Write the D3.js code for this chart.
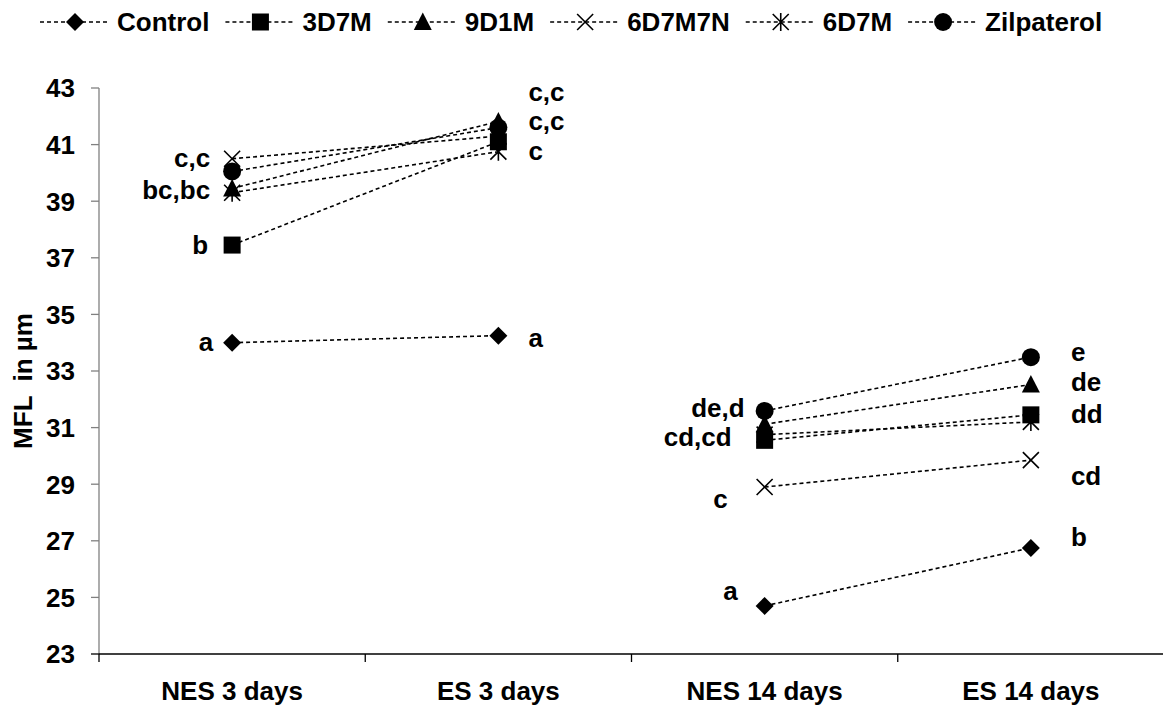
<!DOCTYPE html>
<html><head><meta charset="utf-8">
<script src="https://cdn.jsdelivr.net/npm/d3@7"></script>
<style>body{margin:0;background:#fff}svg{display:block}text{font-family:"Liberation Sans",Arial,sans-serif;font-weight:bold;fill:#000;white-space:pre}</style>
</head><body><svg id="c" width="1163" height="709"></svg>
<script>
const categories = ["NES 3 days", "ES 3 days", "NES 14 days", "ES 14 days"];
const seriesNames = ["Control", "3D7M", "9D1M", "6D7M7N", "6D7M", "Zilpaterol"];
const seriesMarkers = ["diamond", "square", "triangle", "x", "asterisk", "circle"];
const control    = [34.0, 34.25, 24.7, 26.75];
const s3D7M      = [37.45, 41.1, 30.55, 31.45];
const s9D1M      = [39.45, 41.82, 31.12, 32.52];
const s6D7M7N    = [40.5, 41.3, 28.9, 29.85];
const s6D7M      = [39.3, 40.75, 30.75, 31.2];
const zilpaterol = [40.05, 41.6, 31.59, 33.49];
const seriesValues = [control, s3D7M, s9D1M, s6D7M7N, s6D7M, zilpaterol];
const yTicks = [23, 25, 27, 29, 31, 33, 35, 37, 39, 41, 43];
const labelCats = [0,0,0,0, 1,1,1,1, 2,2,2,2, 3,3,3,3,3];
const labelVals = [40.55,39.42,37.45,34.03, 42.86,41.83,40.8,34.17, 31.72,30.67,28.5,25.23, 33.7,32.62,31.5,29.3,27.13];
const labelTexts = ["c,c","bc,bc","b","a", "c,c","c,c","c","a", "de,d","cd,cd","c","a", "e","de","dd","cd","b"];
const yTitle = "MFL  in µm";

(function () {
const svg = d3.select("#c");
const FS = 26;
const pLeft = 99, pRight = 1164, pTop = 88, pBottom = 654;
const x = d3.scalePoint().domain(categories).range([pLeft, pRight]).padding(0.5);
const xb = d3.scaleBand().domain(categories).range([pLeft, pRight]);
const y = d3.scaleLinear().domain([23, 43]).range([pBottom, pTop]);

const axisColor = "#808080";
svg.append("line").attr("x1", pLeft).attr("x2", pLeft).attr("y1", pTop).attr("y2", pBottom).attr("stroke", axisColor).attr("stroke-width", 1.3);
svg.append("line").attr("x1", pLeft).attr("x2", pRight).attr("y1", pBottom).attr("y2", pBottom).attr("stroke", "#000").attr("stroke-width", 1.3);
yTicks.forEach(t => {
  svg.append("line").attr("x1", pLeft - 8).attr("x2", pLeft).attr("y1", y(t)).attr("y2", y(t)).attr("stroke", t === 23 ? "#000" : axisColor).attr("stroke-width", 1.3);
  svg.append("text").attr("x", 75).attr("y", y(t)).attr("dy", "0.36em").attr("text-anchor", "end").attr("font-size", FS).text(t);
});
categories.forEach((c, i) => {
  if (i > 0) svg.append("line").attr("x1", xb(c)).attr("x2", xb(c)).attr("y1", pBottom).attr("y2", pBottom + 8).attr("stroke", "#000").attr("stroke-width", 1.3);
  svg.append("text").attr("x", x(c)).attr("y", 700).attr("text-anchor", "middle").attr("font-size", FS).text(c);
});
svg.append("line").attr("x1", pLeft).attr("x2", pLeft).attr("y1", pBottom).attr("y2", pBottom + 8).attr("stroke", "#000").attr("stroke-width", 1.3);
svg.append("text").attr("transform", `translate(23,381) rotate(-90)`).attr("dy", "0.36em").attr("text-anchor", "middle").attr("font-size", FS).text(yTitle);

function marker(g, type, cx, cy) {
  const s = 9;
  if (type === "diamond") g.append("path").attr("d", `M${cx},${cy-s}L${cx+s},${cy}L${cx},${cy+s}L${cx-s},${cy}Z`).attr("fill", "#000");
  else if (type === "square") g.append("rect").attr("x", cx-8.5).attr("y", cy-8.5).attr("width", 17).attr("height", 17).attr("fill", "#000");
  else if (type === "triangle") g.append("path").attr("d", `M${cx},${cy-9.5}L${cx+9},${cy+8}L${cx-9},${cy+8}Z`).attr("fill", "#000");
  else if (type === "circle") g.append("circle").attr("cx", cx).attr("cy", cy).attr("r", 9).attr("fill", "#000");
  else if (type === "x") g.append("path").attr("d", `M${cx-8},${cy-8}L${cx+8},${cy+8}M${cx-8},${cy+8}L${cx+8},${cy-8}`).attr("stroke", "#000").attr("stroke-width", 1.6).attr("fill", "none");
  else if (type === "asterisk") g.append("path").attr("d", `M${cx-8},${cy-8}L${cx+8},${cy+8}M${cx-8},${cy+8}L${cx+8},${cy-8}M${cx},${cy-9}L${cx},${cy+9}`).attr("stroke", "#000").attr("stroke-width", 1.6).attr("fill", "none");
}

const pairs = [[0, 1], [2, 3]];
const lineGen = d3.line().x(d => x(d[0])).y(d => y(d[1]));
seriesValues.forEach((vals) => {
  pairs.forEach(([a, b]) => {
    svg.append("path").attr("d", lineGen([[categories[a], vals[a]], [categories[b], vals[b]]]))
      .attr("stroke", "#000").attr("stroke-width", 1.6).attr("stroke-dasharray", "4,3").attr("fill", "none");
  });
});
seriesValues.forEach((vals, si) => {
  vals.forEach((v, ci) => marker(svg, seriesMarkers[si], x(categories[ci]), y(v)));
});

// per-label horizontal offsets from the category centre (layout only)
const labelDx = [-22,-22,-24,-19, 30,30,30,30, -20,-33,-37,-27, 40,40,40,40,40];
const labelAnchor = ["end", "start", "end", "start"];
labelTexts.forEach((t, i) => {
  const ci = labelCats[i];
  svg.append("text").attr("x", x(categories[ci]) + labelDx[i]).attr("y", y(labelVals[i])).attr("dy", "0.36em")
    .attr("text-anchor", labelAnchor[ci]).attr("font-size", FS).text(t);
});

// legend
let lx = 40;
const ly = 22, lineLen = 70;
seriesNames.forEach((n, i) => {
  svg.append("line").attr("x1", lx).attr("x2", lx + lineLen).attr("y1", ly).attr("y2", ly).attr("stroke", "#000").attr("stroke-width", 1.6).attr("stroke-dasharray", "4,3");
  marker(svg, seriesMarkers[i], lx + lineLen / 2, ly);
  const t = svg.append("text").attr("x", lx + lineLen + 7).attr("y", ly).attr("dy", "0.36em").attr("font-size", FS).text(n);
  lx = lx + lineLen + 7 + t.node().getComputedTextLength() + 16;
});
})();
</script></body></html>
